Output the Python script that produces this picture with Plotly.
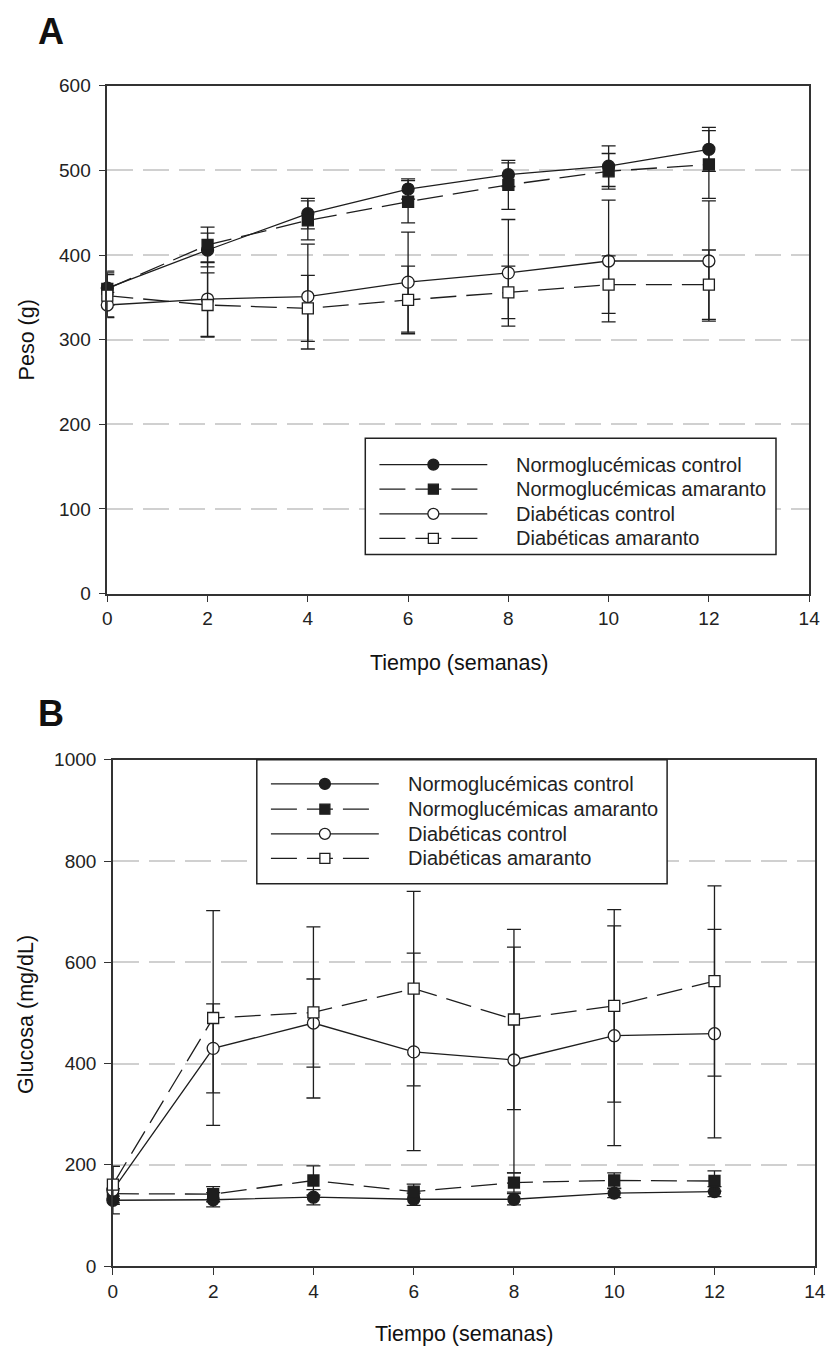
import plotly.graph_objects as go

W, H = 838, 1364

# ---------------- data ----------------
semanas = [0, 2, 4, 6, 8, 10, 12]
series_names = ["Normoglucémicas control", "Normoglucémicas amaranto",
                "Diabéticas control", "Diabéticas amaranto"]

# Panel A: Peso (g)
peso_nc = [361, 406, 449, 478, 495, 505, 525]
peso_nc_err = [20, 20, 18, 12, 14, 24, 26]
peso_na = [360, 412, 441, 463, 483, 499, 507]
peso_na_err = [19, 21, 23, 25, 29, 21, 40]
peso_dc = [341, 348, 351, 368, 379, 393, 393]
peso_dc_err = [15, 44, 62, 59, 63, 72, 71]
peso_da = [352, 341, 337, 347, 356, 365, 365]
peso_da_err = [25, 38, 39, 40, 31, 34, 41]

# Panel B: Glucosa (mg/dL)
glu_nc = [130, 131, 136, 132, 132, 144, 147]
glu_nc_err = [8, 14, 15, 12, 11, 9, 10]
glu_na = [143, 142, 169, 147, 165, 169, 168]
glu_na_err = [10, 15, 29, 15, 19, 15, 20]
glu_dc = [150, 430, 480, 423, 407, 455, 459]
glu_dc_err = [47, 88, 87, 195, 223, 217, 206]
glu_da = [161, 490, 501, 548, 487, 514, 563]
glu_da_err = [36, 212, 169, 192, 178, 190, 188]

# ---------------- styles ----------------
INK = "#1e1e1e"
FONT = "Liberation Sans, Arial, sans-serif"
DASH = "26px,10px"
styles = [
    dict(dash="solid", symbol="circle", fill=INK, size=12),
    dict(dash=DASH, symbol="square", fill=INK, size=11),
    dict(dash="solid", symbol="circle", fill="white", size=12),
    dict(dash=DASH, symbol="square", fill="white", size=11),
]


def px(x):
    return x / W


def py(y):
    return 1 - y / H


fig = go.Figure()


def add_panel(means, errs, xa, ya):
    for m, e, st, name in zip(means, errs, styles, series_names):
        fig.add_trace(go.Scatter(
            x=semanas, y=m, name=name, mode="lines+markers",
            xaxis=xa, yaxis=ya, cliponaxis=False, showlegend=False,
            line=dict(color=INK, width=1.3, dash=st["dash"]),
            marker=dict(symbol=st["symbol"], size=st["size"], color=st["fill"],
                        line=dict(color=INK, width=1.3)),
            error_y=dict(type="data", array=e, visible=True, color=INK,
                         thickness=1.3, width=7),
        ))


add_panel([peso_nc, peso_na, peso_dc, peso_da],
          [peso_nc_err, peso_na_err, peso_dc_err, peso_da_err], "x", "y")
add_panel([glu_nc, glu_na, glu_dc, glu_da],
          [glu_nc_err, glu_na_err, glu_dc_err, glu_da_err], "x2", "y2")

axis_common = dict(
    showline=True, linecolor="#333333", linewidth=1.5, mirror=True,
    ticks="outside", ticklen=7, tickwidth=1.3, tickcolor="#333333",
    tickfont=dict(family=FONT, size=19, color="#222222"),
    zeroline=False, fixedrange=True,
)

# Panel geometry (pixels)
A_x0, A_x1, A_y0, A_y1 = 104.3, 819.8, 77.0, 592.7
B_x0, B_x1, B_y0, B_y1 = 110.0, 825.5, 761.5, 1275.7

fig.update_layout(
    width=W, height=H, autosize=False,
    margin=dict(l=0, r=0, t=0, b=0),
    paper_bgcolor="white", plot_bgcolor="white",
    showlegend=False,
    xaxis=dict(domain=[px(A_x0), px(A_x1)], range=[0, 14], dtick=2,
               showgrid=False, anchor="y", **axis_common),
    yaxis=dict(domain=[py(A_y1), py(A_y0)], range=[0, 600], dtick=100,
               showgrid=True, gridcolor="#d0d0d0", gridwidth=1.5, griddash="26px,10px",
               anchor="x", ticklabelstandoff=4, **axis_common),
    xaxis2=dict(domain=[px(B_x0), px(B_x1)], range=[0, 14], dtick=2,
                showgrid=False, anchor="y2", **axis_common),
    yaxis2=dict(domain=[py(B_y1), py(B_y0)], range=[0, 1000], dtick=200,
                showgrid=True, gridcolor="#d0d0d0", gridwidth=1.5, griddash="26px,10px",
                anchor="x2", ticklabelstandoff=4, **axis_common),
)

annotations = []
shapes = []


def note(text, x, y, size, angle=0, xanchor="center"):
    annotations.append(dict(text=text, x=px(x), y=py(y), xref="paper", yref="paper",
                            xanchor=xanchor, yanchor="middle", textangle=angle,
                            showarrow=False,
                            font=dict(family=FONT, size=size, color="#111111")))


# Panel letters
note("<b>A</b>", 47, 22, 36)
note("<b>B</b>", 47, 714, 36)

# Axis titles
note("Tiempo (semanas)", (A_x0 + A_x1) / 2 + 0.5, 663, 21.5)
note("Tiempo (semanas)", (B_x0 + B_x1) / 2, 1345, 21.5)
note("Peso (g)", 22, 335, 21.5, angle=-90)
note("Glucosa (mg/dL)", 22, 1020, 21.5, angle=-90)


def add_legend(left, top, right, bottom, row_ys):
    shapes.append(dict(type="rect", xref="paper", yref="paper",
                       x0=px(left), x1=px(right), y0=py(bottom), y1=py(top),
                       line=dict(color="#222222", width=1.5), fillcolor="white",
                       layer="above"))
    for ry, st, name in zip(row_ys, styles, series_names):
        shapes.append(dict(type="line", xref="paper", yref="paper",
                           x0=px(left + 14.4), x1=px(left + 124.4), y0=py(ry), y1=py(ry),
                           line=dict(color=INK, width=1.3, dash=st["dash"]),
                           layer="above"))
        mx = px(left + 69.4)
        my = py(ry)
        r = 5.5 if st["symbol"] == "circle" else 5.0
        shapes.append(dict(type="circle" if st["symbol"] == "circle" else "rect",
                           xref="paper", yref="paper",
                           xsizemode="pixel", ysizemode="pixel",
                           xanchor=mx, yanchor=my,
                           x0=-r, x1=r, y0=-r, y1=r,
                           fillcolor=st["fill"], line=dict(color=INK, width=1.3),
                           layer="above"))
        annotations.append(dict(text=name, x=px(left + 152), y=py(ry), xanchor="left",
                                yanchor="middle", xref="paper", yref="paper",
                                showarrow=False,
                                font=dict(family=FONT, size=20, color="#222222")))


add_legend(367.3, 435.0, 786.0, 553.0, [461.7, 486.7, 511.7, 536.7])
add_legend(256.7, 761.5, 675.0, 887.3, [786.0, 811.7, 836.7, 861.7])

fig.update_layout(annotations=annotations, shapes=shapes)

fig.write_html("out.html")
